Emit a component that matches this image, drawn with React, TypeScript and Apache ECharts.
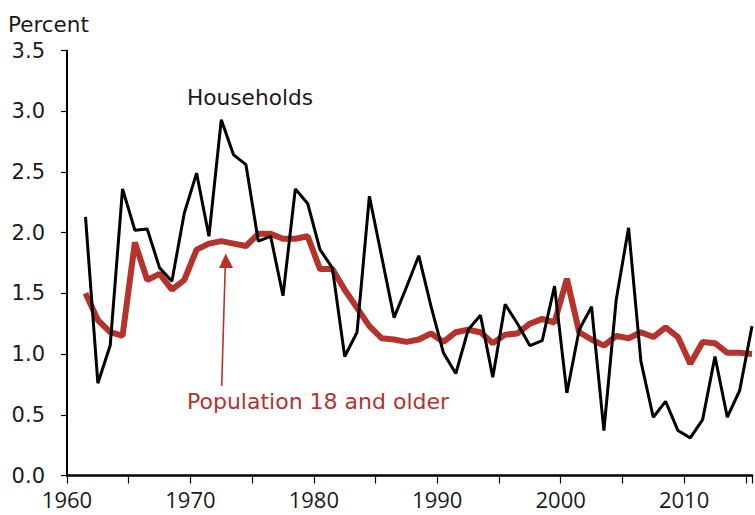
import React, { useEffect, useRef } from 'react';
import * as echarts from 'echarts';

const years = [
  1961, 1962, 1963, 1964, 1965, 1966, 1967, 1968, 1969, 1970,
  1971, 1972, 1973, 1974, 1975, 1976, 1977, 1978, 1979, 1980,
  1981, 1982, 1983, 1984, 1985, 1986, 1987, 1988, 1989, 1990,
  1991, 1992, 1993, 1994, 1995, 1996, 1997, 1998, 1999, 2000,
  2001, 2002, 2003, 2004, 2005, 2006, 2007, 2008, 2009, 2010,
  2011, 2012, 2013, 2014, 2015,
];

const households = [
  2.13, 0.76, 1.07, 2.36, 2.02, 2.03, 1.71, 1.6, 2.16, 2.49,
  1.97, 2.93, 2.64, 2.56, 1.93, 1.97, 1.48, 2.36, 2.24, 1.86,
  1.71, 0.98, 1.18, 2.3, 1.8, 1.3, 1.55, 1.81, 1.39, 1.01,
  0.84, 1.2, 1.32, 0.81, 1.41, 1.25, 1.07, 1.11, 1.56, 0.68,
  1.2, 1.39, 0.37, 1.45, 2.04, 0.94, 0.48, 0.61, 0.37, 0.31,
  0.46, 0.98, 0.48, 0.7, 1.23,
];

const population = [
  1.5, 1.28, 1.18, 1.15, 1.92, 1.61, 1.66, 1.53, 1.61, 1.86,
  1.91, 1.93, 1.91, 1.89, 1.99, 1.99, 1.95, 1.95, 1.97, 1.7,
  1.7, 1.53, 1.38, 1.23, 1.13, 1.12, 1.1, 1.12, 1.17, 1.1,
  1.18, 1.2, 1.18, 1.09, 1.16, 1.17, 1.25, 1.29, 1.26, 1.62,
  1.18, 1.12, 1.07, 1.15, 1.13, 1.18, 1.14, 1.22, 1.14, 0.92,
  1.1, 1.09, 1.01, 1.01, 1.0,
];

const yTicks = ['0.0', '0.5', '1.0', '1.5', '2.0', '2.5', '3.0', '3.5'];

const RED = '#B5322D';
const TEXT = '#1a1a1a';

export default function App() {
  const ref = useRef<HTMLDivElement>(null);

  useEffect(() => {
    const chart = echarts.init(ref.current!, null, { renderer: 'svg' });
    const toPts = (vals: number[]) => years.map((y, i) => [y + 0.5, vals[i]]);
    chart.setOption({
      animation: false,
      backgroundColor: '#fff',
      grid: { left: 67, right: 0, top: 50.5, bottom: 39.5 },
      xAxis: {
        type: 'value',
        min: 1960,
        max: 2015.5,
        interval: 5,
        axisLine: { show: true, lineStyle: { color: '#000', width: 2.5 } },
        axisTick: { show: true, length: 8, lineStyle: { color: '#000', width: 1.2 } },
        axisLabel: {
          formatter: (v: number) => (v % 10 === 0 ? String(v) : ''),
          fontFamily: 'Open Sans',
          fontSize: 22,
          lineHeight: 22,
          color: TEXT,
          margin: 12,
        },
        splitLine: { show: false },
      },
      yAxis: {
        type: 'value',
        min: 0,
        max: 3.5,
        interval: 0.5,
        axisLine: { show: true, lineStyle: { color: '#000', width: 2 } },
        axisTick: { show: true, length: 6, lineStyle: { color: '#000', width: 1.2 } },
        axisLabel: {
          formatter: (v: number) => yTicks[Math.round(v / 0.5)] ?? '',
          fontFamily: 'DejaVu Sans',
          fontSize: 21,
          color: TEXT,
          margin: 22,
        },
        splitLine: { show: false },
      },
      series: [
        {
          name: 'Population 18 and older',
          type: 'line',
          data: toPts(population),
          symbol: 'none',
          lineStyle: { color: RED, width: 6 },
          z: 2,
        },
        {
          name: 'Households',
          type: 'line',
          data: toPts(households),
          symbol: 'none',
          lineStyle: { color: '#000', width: 3 },
          z: 3,
        },
      ],
      graphic: [
        {
          type: 'text',
          left: 8,
          top: 13,
          style: { text: 'Percent', font: '21.5px "DejaVu Sans"', fill: TEXT },
        },
        {
          type: 'text',
          left: 187,
          top: 86,
          style: { text: 'Households', font: '21.7px "DejaVu Sans"', fill: TEXT },
        },
        {
          type: 'text',
          left: 187,
          top: 390,
          style: { text: 'Population 18 and older', font: '22px "DejaVu Sans"', fill: RED },
        },
        {
          type: 'line',
          shape: { x1: 221.7, y1: 386, x2: 225.3, y2: 264 },
          style: { stroke: RED, lineWidth: 1.6 },
        },
        {
          type: 'polygon',
          shape: { points: [[225.7, 253.5], [219, 268], [233, 268]] },
          style: { fill: RED },
        },
      ],
    });
    return () => chart.dispose();
  }, []);

  return (
    <div
      ref={ref}
      style={{ position: 'fixed', left: 0, top: 0, width: 755, height: 515, background: '#fff' }}
    />
  );
}
